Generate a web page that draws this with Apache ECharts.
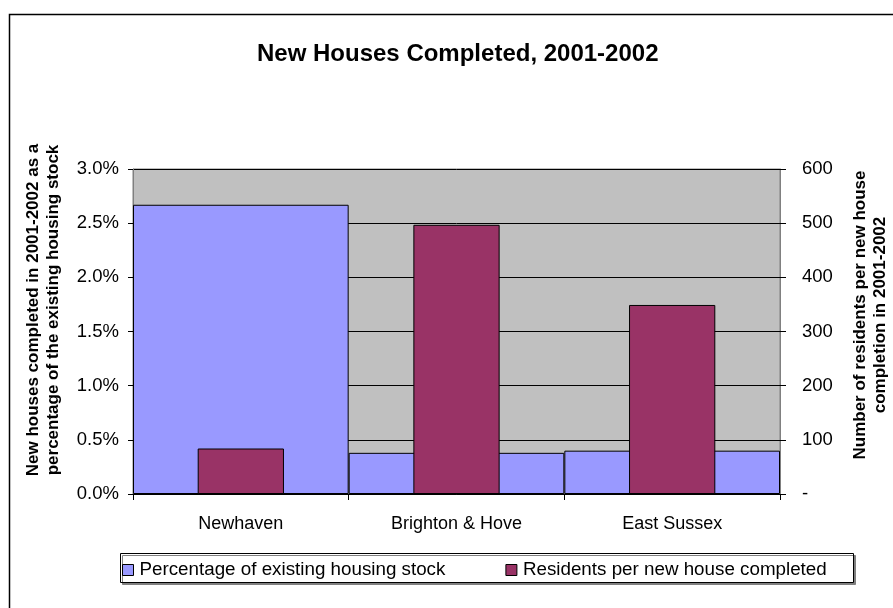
<!DOCTYPE html>
<html>
<head>
<meta charset="utf-8">
<script src="https://cdn.jsdelivr.net/npm/echarts@6/dist/echarts.min.js"></script>
<style>
  html, body { margin: 0; padding: 0; background: #fff; }
  #chart { width: 893px; height: 608px; }
</style>
</head>
<body>
<div id="chart"></div>
<script>
// Areas compared
var categories = ['Newhaven', 'Brighton & Hove', 'East Sussex'];
// New houses completed 2001-2002 as % of existing stock
var pctOfStock = [2.67, 0.38, 0.40];
// Residents per new house completed
var residentsPerHouse = [84, 497, 349];

var seriesNames = ['Percentage of existing housing stock', 'Residents per new house completed'];
var leftTitle = ['New houses completed in 2001-2002 as a', 'percentage of the existing housing stock'];
var rightTitle = ['Number of residents per new house', 'completion in 2001-2002'];

var FONT = "'Liberation Sans', Arial, sans-serif";
var chart = echarts.init(document.getElementById('chart'));

var option = {
  backgroundColor: '#ffffff',
  animation: false,
  title: {
    text: 'New Houses Completed, 2001-2002',
    left: 257, top: 42, padding: 0,
    textStyle: { fontFamily: FONT, fontSize: 24, fontWeight: 'bold', color: '#000' }
  },
  grid: {
    left: 133, right: 113, top: 169, bottom: 114,
    show: true, backgroundColor: '#C0C0C0', borderColor: '#808080', borderWidth: 1
  },
  legend: {
    left: 122, top: 560.5, padding: 0,
    itemGap: 60, itemWidth: 11, itemHeight: 11,
    icon: 'rect',
    itemStyle: { borderColor: '#000', borderWidth: 1 },
    textStyle: { fontFamily: FONT, fontSize: 18.8, color: '#000', padding: [0, 0, 0, 1] },
    data: seriesNames
  },
  xAxis: [
    {
      type: 'category', data: categories, position: 'bottom',
      axisLine: { lineStyle: { color: '#000', width: 1 } },
      axisTick: { show: true, alignWithLabel: false, length: 6, lineStyle: { color: '#000' } },
      axisLabel: { fontFamily: FONT, fontSize: 18, color: '#000', margin: 21 }
    },
    { type: 'category', data: categories, show: false }
  ],
  yAxis: [
    {
      type: 'value', min: 0, max: 3.0, interval: 0.5, position: 'left',
      axisLine: { show: true, lineStyle: { color: '#808080' } },
      axisTick: { show: true, length: 5, lineStyle: { color: '#000' } },
      axisLabel: {
        fontFamily: FONT, fontSize: 18.5, color: '#000', margin: 14,
        formatter: function (v) { return v.toFixed(1) + '%'; }
      },
      splitLine: { show: true, lineStyle: { color: '#000', width: 1 } }
    },
    {
      type: 'value', min: 0, max: 600, interval: 100, position: 'right',
      axisLine: { show: true, lineStyle: { color: '#808080' } },
      axisTick: { show: true, length: 6, lineStyle: { color: '#000' } },
      axisLabel: {
        fontFamily: FONT, fontSize: 18.5, color: '#000', margin: 22,
        formatter: function (v) { return v === 0 ? '-' : String(v); }
      },
      splitLine: { show: false }
    }
  ],
  series: [
    {
      name: seriesNames[0], type: 'bar', xAxisIndex: 0, yAxisIndex: 0,
      barCategoryGap: '0%', data: pctOfStock,
      itemStyle: { color: '#9999FF', borderColor: '#000', borderWidth: 1 }
    },
    {
      name: seriesNames[1], type: 'bar', xAxisIndex: 1, yAxisIndex: 1,
      barWidth: '40%', data: residentsPerHouse,
      itemStyle: { color: '#993366', borderColor: '#000', borderWidth: 1 }
    }
  ],
  graphic: [
    // outer chart frame (open to the right and bottom)
    { type: 'rect', z: -10, silent: true,
      shape: { x: 9.5, y: 14.5, width: 1000, height: 1000 },
      style: { fill: null, stroke: '#000', lineWidth: 1.5 } },
    // legend frame with drop shadow
    { type: 'rect', z: -5, silent: true,
      shape: { x: 120.5, y: 553.5, width: 733, height: 29 },
      style: { fill: '#fff', stroke: '#000', lineWidth: 1,
        shadowColor: '#808080', shadowOffsetX: 2, shadowOffsetY: 2, shadowBlur: 0 } },
    { type: 'text', silent: true, x: 33, y: 310, rotation: Math.PI / 2,
      style: { text: leftTitle[0], font: 'bold 17px ' + FONT, fill: '#000', textAlign: 'center', textVerticalAlign: 'middle' } },
    { type: 'text', silent: true, x: 53, y: 310, rotation: Math.PI / 2,
      style: { text: leftTitle[1], font: 'bold 17px ' + FONT, fill: '#000', textAlign: 'center', textVerticalAlign: 'middle' } },
    { type: 'text', silent: true, x: 860, y: 315, rotation: Math.PI / 2,
      style: { text: rightTitle[0], font: 'bold 17px ' + FONT, fill: '#000', textAlign: 'center', textVerticalAlign: 'middle' } },
    { type: 'text', silent: true, x: 880, y: 315, rotation: Math.PI / 2,
      style: { text: rightTitle[1], font: 'bold 17px ' + FONT, fill: '#000', textAlign: 'center', textVerticalAlign: 'middle' } }
  ]
};
chart.setOption(option);
</script>
</body>
</html>
